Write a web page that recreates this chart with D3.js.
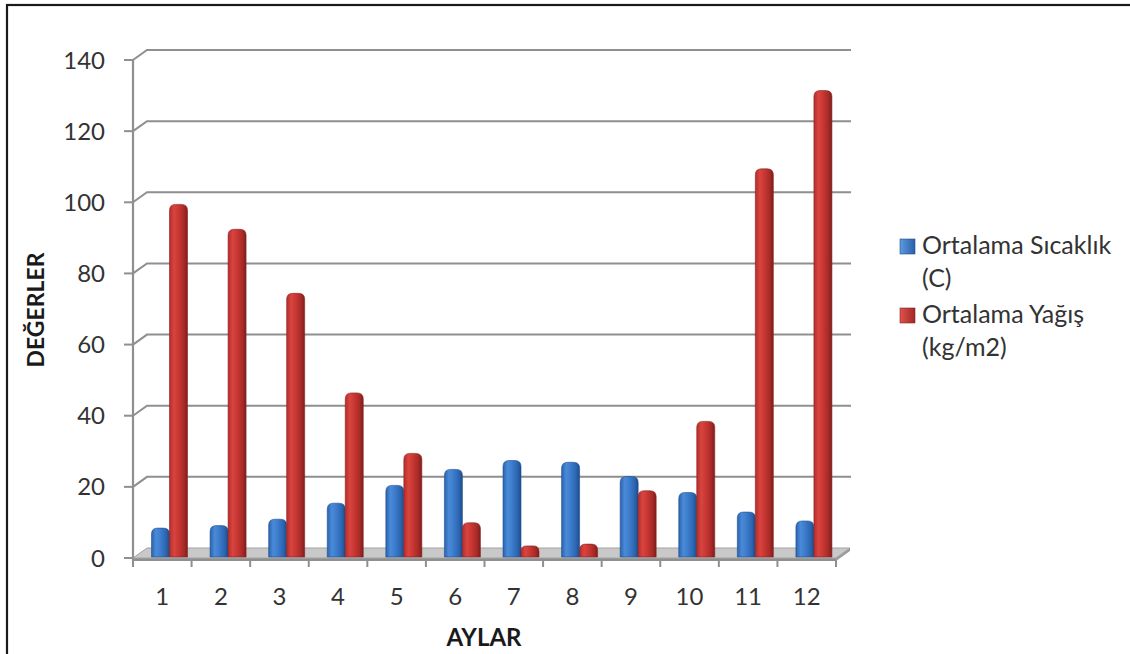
<!DOCTYPE html>
<html>
<head>
<meta charset="utf-8">
<script src="https://cdn.jsdelivr.net/npm/d3@7"></script>
<style>
  html, body { margin: 0; padding: 0; background: #fff; }
  svg { display: block; }
  text { font-family: Lato, "Open Sans", sans-serif; }
</style>
</head>
<body>
<svg id="chart" width="1130" height="654"></svg>
<script>
const months = ["1","2","3","4","5","6","7","8","9","10","11","12"];
const seriesNames = ["Ortalama Sıcaklık", "Ortalama Yağış"];
const seriesUnits = ["(C)", "(kg/m2)"];
const sicaklik = [7, 7.7, 9.5, 14, 19, 23.5, 26, 25.5, 21.5, 17, 11.5, 9];
const yagis = [98, 91, 73, 45, 28, 8.5, 2, 2.5, 17.5, 37, 108, 130];
const yTicks = [0, 20, 40, 60, 80, 100, 120, 140];
const yTitle = "DEĞERLER";
const xTitle = "AYLAR";

(function () {
const svg = d3.select("#chart");

// outer frame
svg.append("rect").attr("x", 7).attr("y", 5).attr("width", 1140).attr("height", 700)
  .attr("fill", "#fff").attr("stroke", "#1a1a1a").attr("stroke-width", 2.2);

const pLeft = 133, pRight = 836, pTop = 60, pBottom = 558;
const dx = 14, dy = -10; // 3D depth offset of back wall
const x = d3.scaleBand().domain(months).range([pLeft, pRight]).paddingInner(0).paddingOuter(0);
const y = d3.scaleLinear().domain([0, 140]).range([pBottom, pTop]);

const gridColor = "#8f8f8f";
const textColor = "#333333";

const defs = svg.append("defs");
function grad(id, stops) {
  const g = defs.append("linearGradient").attr("id", id).attr("x1", "0%").attr("x2", "100%").attr("y1", "0%").attr("y2", "0%");
  stops.forEach(s => g.append("stop").attr("offset", s[0]).attr("stop-color", s[1]));
}
grad("gBlue", [["0%", "#2a63ad"], ["25%", "#4a8ad8"], ["45%", "#3f80cf"], ["80%", "#2c66b2"], ["100%", "#1d4c8c"]]);
grad("gRed", [["0%", "#b52d2a"], ["25%", "#d8443f"], ["45%", "#cd3a36"], ["80%", "#a82a27"], ["100%", "#7e1e1c"]]);
grad("gBlueL", [["0%", "#5d9be0"], ["100%", "#2a5fa5"]]);
grad("gRedL", [["0%", "#e0534d"], ["100%", "#a12724"]]);

// back wall grid lines with diagonal connectors
const grid = svg.append("g");
yTicks.forEach(t => {
  const yy = y(t);
  if (t > 0) {
    grid.append("path")
      .attr("d", `M${pLeft},${yy} L${pLeft + dx},${yy + dy} L${pRight + dx + 1},${yy + dy}`)
      .attr("fill", "none").attr("stroke", gridColor).attr("stroke-width", 2);
  }
});

// floor slab
const floor = svg.append("g");
floor.append("path")
  .attr("d", `M${pLeft},${pBottom} L${pRight},${pBottom} L${pRight + dx},${pBottom + dy} L${pLeft + dx},${pBottom + dy} Z`)
  .attr("fill", "#c9c9c9").attr("stroke", "#a3a3a3").attr("stroke-width", 1);
floor.append("path")
  .attr("d", `M${pLeft},${pBottom} L${pRight},${pBottom} L${pRight + dx},${pBottom + dy} L${pRight + dx},${pBottom + dy + 3} L${pRight},${pBottom + 3} L${pLeft},${pBottom + 3} Z`)
  .attr("fill", "#9c9c9c");

// y axis
const yAxis = svg.append("g");
yAxis.append("line").attr("x1", pLeft).attr("x2", pLeft).attr("y1", pTop).attr("y2", pBottom + 3)
  .attr("stroke", gridColor).attr("stroke-width", 2.2);
yTicks.forEach(t => {
  yAxis.append("line").attr("x1", pLeft - 9).attr("x2", pLeft).attr("y1", y(t)).attr("y2", y(t))
    .attr("stroke", gridColor).attr("stroke-width", 2);
  yAxis.append("text").attr("x", 105).attr("y", y(t)).attr("dy", "0.36em")
    .attr("text-anchor", "end").attr("font-size", 24).attr("fill", textColor).text(t);
});

// x axis ticks and labels
const xAxis = svg.append("g");
xAxis.append("line").attr("x1", pLeft).attr("x2", pRight).attr("y1", pBottom + 2).attr("y2", pBottom + 2)
  .attr("stroke", gridColor).attr("stroke-width", 2);
const bounds = months.map(m => x(m)).concat([pRight]);
bounds.forEach(b => {
  xAxis.append("line").attr("x1", b).attr("x2", b).attr("y1", pBottom + 2).attr("y2", pBottom + 9)
    .attr("stroke", gridColor).attr("stroke-width", 2);
});
months.forEach(m => {
  xAxis.append("text").attr("x", x(m) + x.bandwidth() / 2).attr("y", 605)
    .attr("text-anchor", "middle").attr("font-size", 24).attr("fill", textColor).text(m);
});

// bars
const barW = 18;
const series = [
  { vals: sicaklik, fill: "url(#gBlue)", edge: "#1e4f90", off: 18.5 },
  { vals: yagis, fill: "url(#gRed)", edge: "#8a201e", off: 36.5 }
];
const bars = svg.append("g");
months.forEach((m, i) => {
  series.forEach(s => {
    const v = s.vals[i];
    const x0 = x(m) + s.off;
    const yTop = y(v) - 5;
    const yBot = pBottom - 1;
    const r = Math.min(6, (yBot - yTop) / 2);
    const d = `M${x0},${yBot} L${x0},${yTop + r} Q${x0},${yTop} ${x0 + r},${yTop} L${x0 + barW - r},${yTop} Q${x0 + barW},${yTop} ${x0 + barW},${yTop + r} L${x0 + barW},${yBot} Z`;
    bars.append("path").attr("d", d).attr("fill", s.fill).attr("stroke", s.edge).attr("stroke-width", 0.6);
  });
});

// axis titles
svg.append("text").attr("transform", `translate(44,310) rotate(-90)`)
  .attr("text-anchor", "middle").attr("font-size", 23).attr("font-weight", "bold").attr("fill", "#1a1a1a").text(yTitle);
svg.append("text").attr("x", 484).attr("y", 646)
  .attr("text-anchor", "middle").attr("font-size", 24).attr("font-weight", "bold").attr("fill", "#1a1a1a").text(xTitle);

// legend
const legend = svg.append("g");
const legFills = ["url(#gBlueL)", "url(#gRedL)"];
const legTops = [239, 308];
seriesNames.forEach((name, i) => {
  const ty = legTops[i];
  legend.append("rect").attr("x", 900).attr("y", ty).attr("width", 15).attr("height", 15)
    .attr("fill", legFills[i]).attr("stroke", i === 0 ? "#1e4f90" : "#8a201e").attr("stroke-width", 0.6);
  legend.append("text").attr("x", 922).attr("y", ty + 15).attr("font-size", 25).attr("fill", textColor).text(name);
  legend.append("text").attr("x", 922).attr("y", ty + 48).attr("font-size", 25).attr("fill", textColor).text(seriesUnits[i]);
});
})();
</script>
</body>
</html>
